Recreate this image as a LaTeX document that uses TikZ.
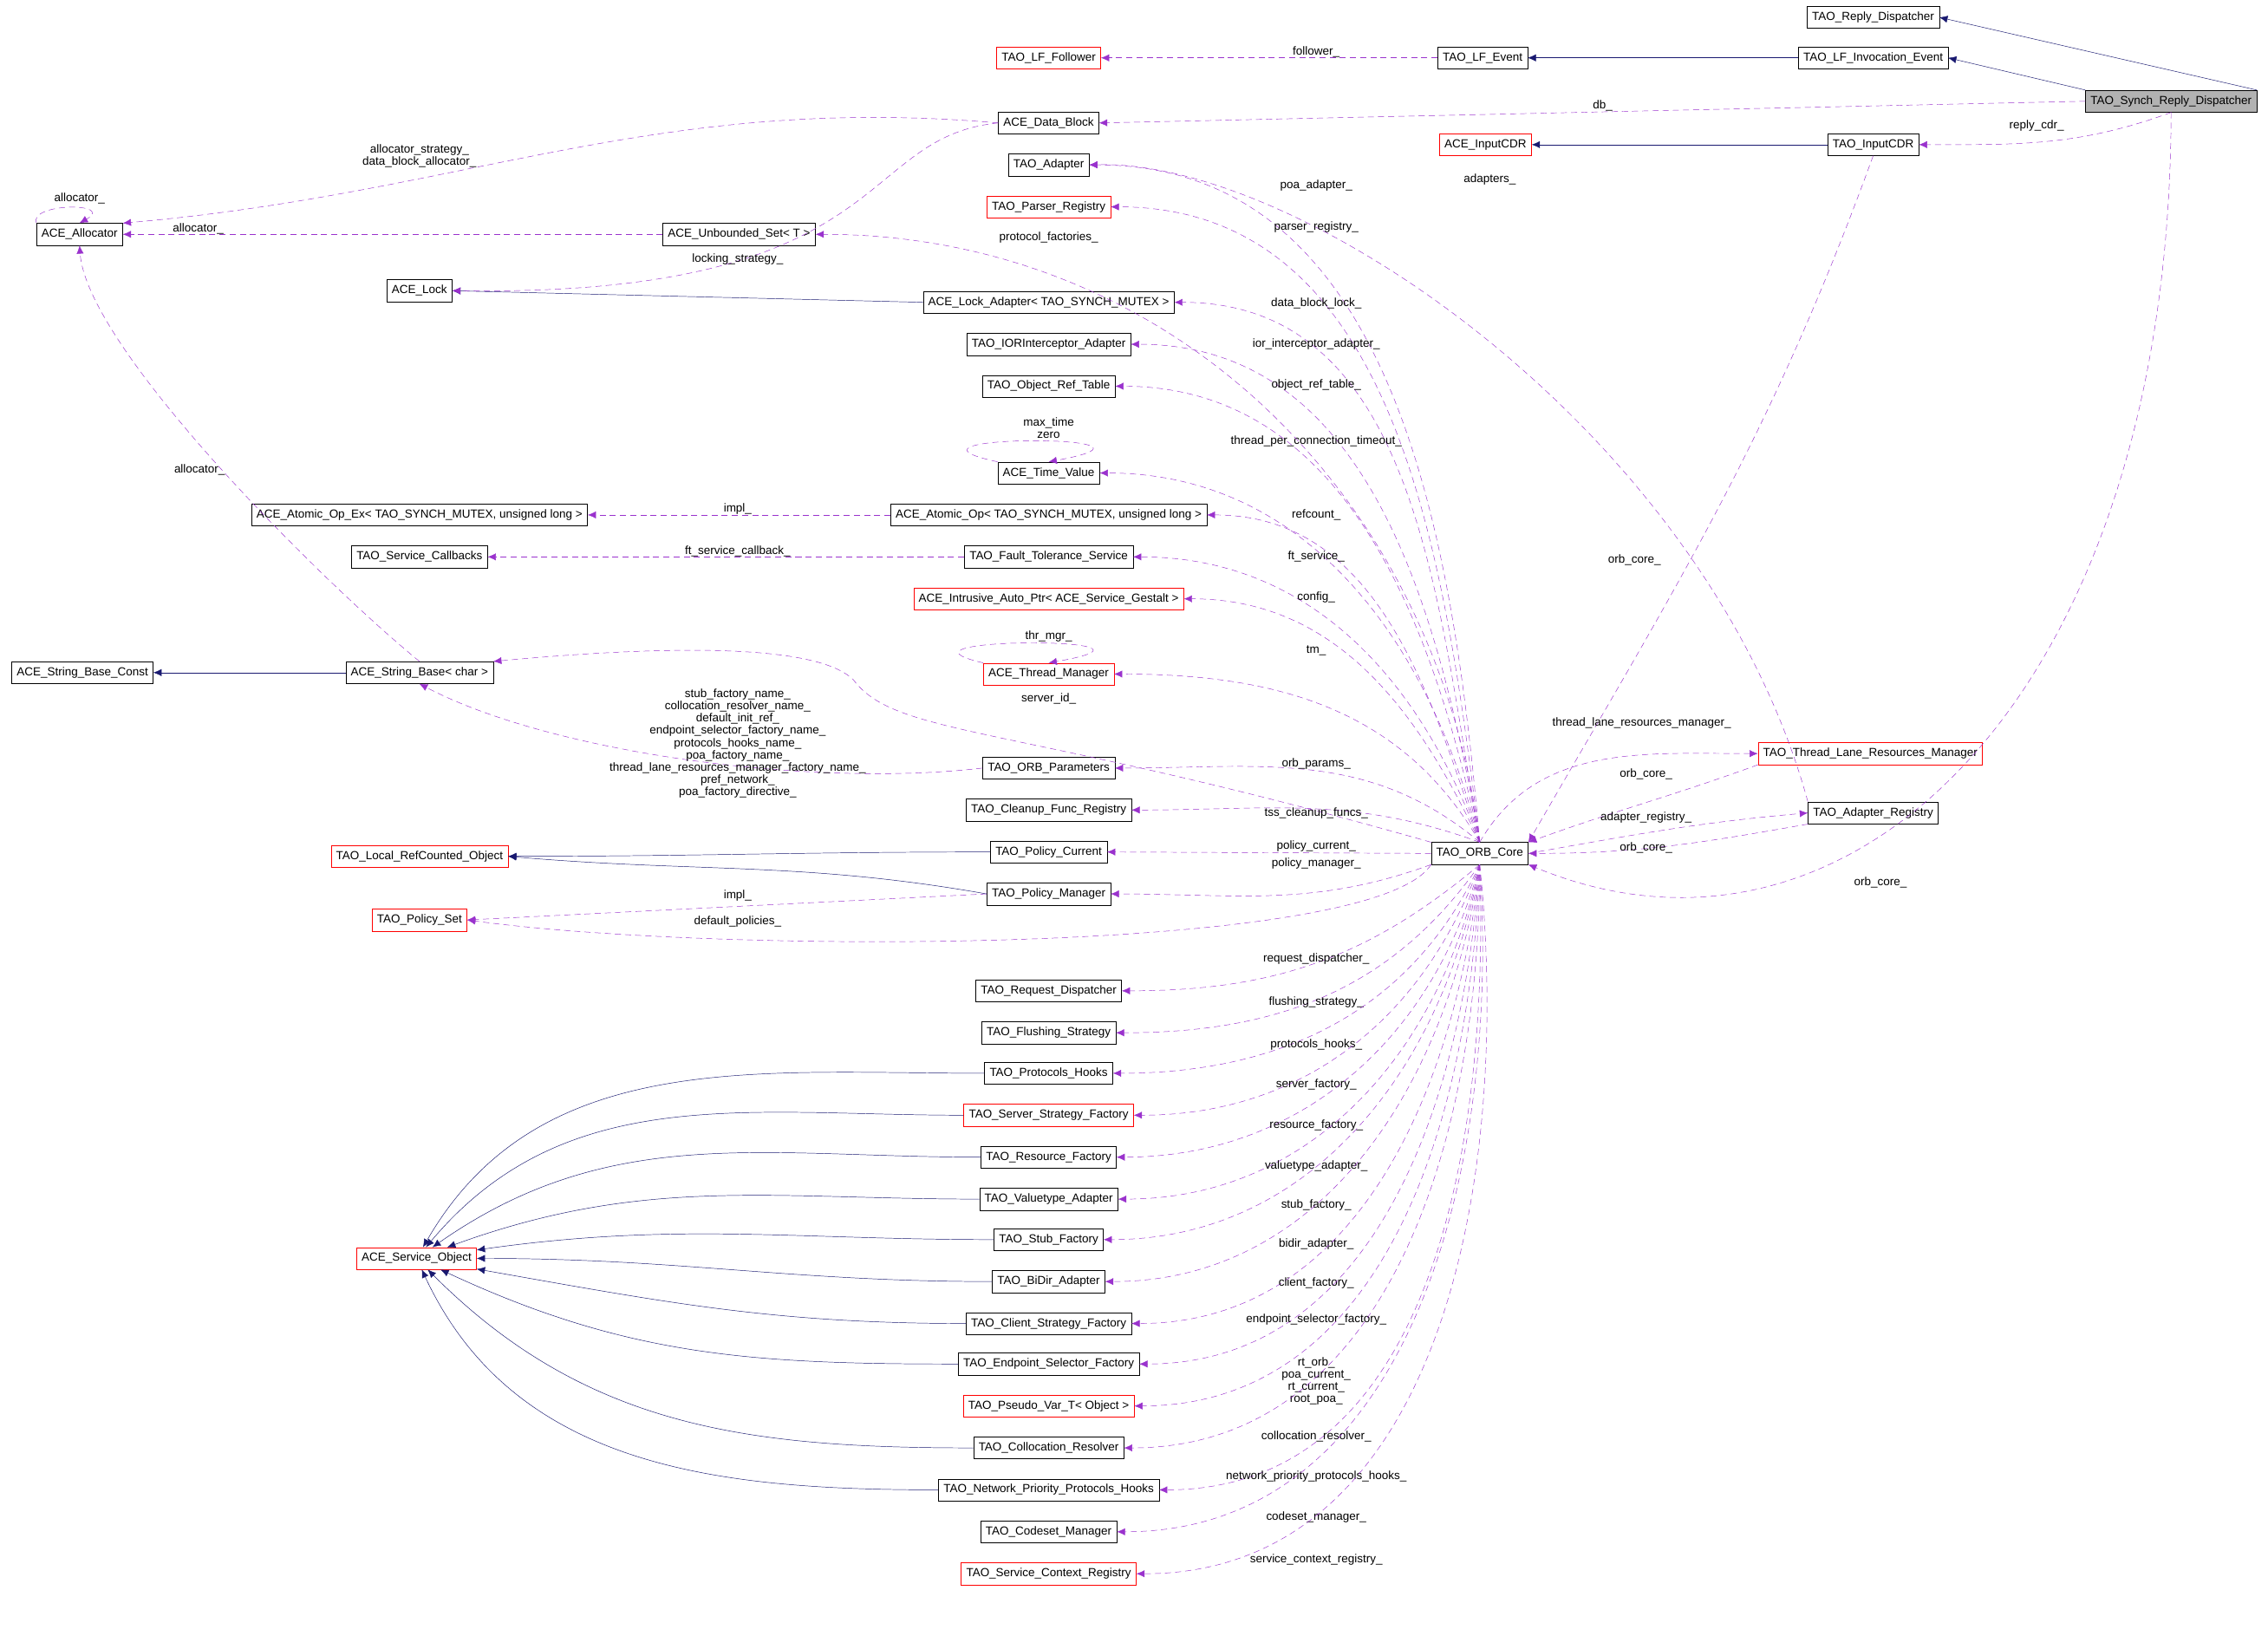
\documentclass[tikz,border=0pt]{standalone}
\usepackage{fontspec}
\setmainfont{Liberation Sans}
\usetikzlibrary{arrows.meta}
\definecolor{usecol}{HTML}{9A32CD}
\definecolor{inhcol}{HTML}{191970}
\tikzset{
  cls/.style={draw=black, fill=white, minimum height=0.76cm, inner xsep=5pt, font=\fontsize{11.5}{12}\selectfont},
  clsred/.style={cls, draw=red},
  inh/.style={draw=inhcol, -{Latex[length=8pt,width=7pt]}},
  usg/.style={draw=usecol, dashed, dash pattern=on 6pt off 4pt, -{Latex[length=8pt,width=7pt]}},
  lbl/.style={font=\fontsize{11.5}{12}\selectfont, align=center, inner sep=1pt}
}
\begin{document}
\begin{tikzpicture}[x=0.05cm, y=-0.05cm]
  \useasboundingbox (0,0) rectangle (1568,1140);
  % top right
  \node (rdisp) [cls] at (1295,12) {TAO\_Reply\_Dispatcher};
  \node (lfinv) [cls] at (1295,40) {TAO\_LF\_Invocation\_Event};
  \node (synch) [cls, fill=black!30] at (1501,70) {TAO\_Synch\_Reply\_Dispatcher};
  \node (lfevent) [cls] at (1025,40) {TAO\_LF\_Event};
  \node (lffollow) [clsred] at (725,40) {TAO\_LF\_Follower};
  \node (datablock) [cls] at (725,85) {ACE\_Data\_Block};
  \node (acecdr) [clsred] at (1027,100) {ACE\_InputCDR};
  \node (taocdr) [cls] at (1295,100) {TAO\_InputCDR};
  \node (adapter) [cls] at (725,114) {TAO\_Adapter};
  \node (parser) [clsred] at (725,143) {TAO\_Parser\_Registry};
  \node (uset) [cls] at (511,162) {ACE\_Unbounded\_Set< T >};
  \node (alloc) [cls] at (55,162) {ACE\_Allocator};
  \node (lock) [cls] at (290,201) {ACE\_Lock};
  \node (lockad) [cls] at (725,209) {ACE\_Lock\_Adapter< TAO\_SYNCH\_MUTEX >};
  \node (ior) [cls] at (725,238) {TAO\_IORInterceptor\_Adapter};
  \node (oref) [cls] at (725,267) {TAO\_Object\_Ref\_Table};
  \node (tval) [cls] at (725,327) {ACE\_Time\_Value};
  \node (atomex) [cls] at (290,356) {ACE\_Atomic\_Op\_Ex< TAO\_SYNCH\_MUTEX, unsigned long >};
  \node (atom) [cls] at (725,356) {ACE\_Atomic\_Op< TAO\_SYNCH\_MUTEX, unsigned long >};
  \node (svccb) [cls] at (290,385) {TAO\_Service\_Callbacks};
  \node (ftsvc) [cls] at (725,385) {TAO\_Fault\_Tolerance\_Service};
  \node (iptr) [clsred] at (725,414) {ACE\_Intrusive\_Auto\_Ptr< ACE\_Service\_Gestalt >};
  \node (thrmgr) [clsred] at (725,466) {ACE\_Thread\_Manager};
  \node (sbconst) [cls] at (57,465) {ACE\_String\_Base\_Const};
  \node (sbase) [cls] at (290,465) {ACE\_String\_Base< char >};
  \node (oparams) [cls] at (725,531) {TAO\_ORB\_Parameters};
  \node (cleanup) [cls] at (725,560) {TAO\_Cleanup\_Func\_Registry};
  \node (lrc) [clsred] at (290,592) {TAO\_Local\_RefCounted\_Object};
  \node (pcur) [cls] at (725,589) {TAO\_Policy\_Current};
  \node (pmgr) [cls] at (725,618) {TAO\_Policy\_Manager};
  \node (pset) [clsred] at (290,636) {TAO\_Policy\_Set};
  \node (orb) [cls] at (1023,590) {TAO\_ORB\_Core};
  \node (tlane) [clsred] at (1293,521) {TAO\_Thread\_Lane\_Resources\_Manager};
  \node (areg) [cls] at (1295,562) {TAO\_Adapter\_Registry};
  % lower column
  \node (reqd) [cls] at (725,685) {TAO\_Request\_Dispatcher};
  \node (flush) [cls] at (725,714) {TAO\_Flushing\_Strategy};
  \node (phooks) [cls] at (725,742) {TAO\_Protocols\_Hooks};
  \node (ssf) [clsred] at (725,771) {TAO\_Server\_Strategy\_Factory};
  \node (resf) [cls] at (725,800) {TAO\_Resource\_Factory};
  \node (vtad) [cls] at (725,829) {TAO\_Valuetype\_Adapter};
  \node (stubf) [cls] at (725,857) {TAO\_Stub\_Factory};
  \node (bidir) [cls] at (725,886) {TAO\_BiDir\_Adapter};
  \node (csf) [cls] at (725,915) {TAO\_Client\_Strategy\_Factory};
  \node (esf) [cls] at (725,943) {TAO\_Endpoint\_Selector\_Factory};
  \node (pvar) [clsred] at (725,972) {TAO\_Pseudo\_Var\_T< Object >};
  \node (coll) [cls] at (725,1001) {TAO\_Collocation\_Resolver};
  \node (nph) [cls] at (725,1030) {TAO\_Network\_Priority\_Protocols\_Hooks};
  \node (csm) [cls] at (725,1059) {TAO\_Codeset\_Manager};
  \node (scr) [clsred] at (725,1088) {TAO\_Service\_Context\_Registry};
  \node (svcobj) [clsred] at (288,870) {ACE\_Service\_Object};

  % inheritance
  \draw [inh] (synch.north east) -- (rdisp.east);
  \draw [inh] (synch.north west) -- (lfinv.east);
  \draw [inh] (lfinv) -- (lfevent);
  \draw [inh] (taocdr) -- (acecdr);
  \draw [inh] (lockad.west) -- (lock.east);
  \draw [inh] (sbase) -- (sbconst);
  \draw [inh] (pcur.west) to[out=180,in=0] (lrc.east);
  \draw [inh] (pmgr.west) to[out=170,in=-5] (lrc.east);
  \foreach \c/\a in {phooks/60, ssf/50, resf/35, vtad/20, stubf/8, bidir/0, csf/-10, esf/-25, coll/-45, nph/-65}
    \draw [inh] (\c.west) to[out=180,in=\a] (svcobj);

  % usage
  \draw [usg] (lfevent) -- (lffollow) node[lbl, at={(910,36)}] {follower\_};
  \draw [usg] (synch.west) -- (datablock.east) node[lbl, at={(1108,73)}] {db\_};
  \draw [usg] (synch.south) to[out=200,in=0] (taocdr.east) node[lbl, at={(1408,87)}] {reply\_cdr\_};
  \draw [usg] (synch.south) .. controls (1500,480) and (1280,690) .. (orb.south east) node[lbl, at={(1300,610)}] {orb\_core\_};
  \draw [usg] (taocdr.south) to[out=250,in=60] (orb.north east) node[lbl, at={(1130,387)}] {orb\_core\_};
  \draw [usg] (datablock.west) to[out=175,in=5] (alloc.north east) node[lbl, at={(290,108)}] {allocator\_strategy\_\\data\_block\_allocator\_};
  \draw [usg] (datablock.west) .. controls (590,95) and (620,205) .. (lock.east) node[lbl, at={(510,179)}] {locking\_strategy\_};
  \draw [usg] (alloc.north west) .. controls (20,140) and (80,140) .. (alloc.north) node[lbl, at={(55,137)}] {allocator\_};
  \draw [usg] (uset) -- (alloc) node[lbl, at={(137,158)}] {allocator\_};
  \draw [usg] (sbase.north) .. controls (220,400) and (60,240) .. (alloc.south) node[lbl, at={(138,325)}] {allocator\_};
  \draw [usg] (tval.north west) .. controls (600,300) and (830,300) .. (tval.north) node[lbl, at={(725,296)}] {max\_time\\zero};
  \draw [usg] (thrmgr.north west) .. controls (600,440) and (830,440) .. (thrmgr.north) node[lbl, at={(725,440)}] {thr\_mgr\_};
  \draw [usg] (atom) -- (atomex) node[lbl, at={(510,352)}] {impl\_};
  \draw [usg] (ftsvc) -- (svccb) node[lbl, at={(510,381)}] {ft\_service\_callback\_};
  \draw [usg] (oparams.west) .. controls (560,545) and (380,520) .. (sbase.south) node[lbl, at={(510,514)}] {stub\_factory\_name\_\\collocation\_resolver\_name\_\\default\_init\_ref\_\\endpoint\_selector\_factory\_name\_\\protocols\_hooks\_name\_\\poa\_factory\_name\_\\thread\_lane\_resources\_manager\_factory\_name\_\\pref\_network\_\\poa\_factory\_directive\_};
  \draw [usg] (orb.north west) .. controls (700,500) and (620,510) .. (590,470) .. controls (560,440) and (420,450) .. (sbase.north east) node[lbl, at={(725,483)}] {server\_id\_};
  \draw [usg] (pmgr.west) -- (pset.east) node[lbl, at={(510,619)}] {impl\_};
  \draw [usg] (orb.south west) .. controls (950,660) and (500,660) .. (pset.east) node[lbl, at={(510,637)}] {default\_policies\_};
  \draw [usg] (orb.north) to[out=60,in=180] (tlane.west) node[lbl, at={(1135,500)}] {thread\_lane\_resources\_manager\_};
  \draw [usg] (tlane.south west) to[out=200,in=20] (orb.north east) node[lbl, at={(1138,535)}] {orb\_core\_};
  \draw [usg] (orb.east) to[out=10,in=185] (areg.west) node[lbl, at={(1138,565)}] {adapter\_registry\_};
  \draw [usg] (areg.south west) to[out=190,in=0] (orb.east) node[lbl, at={(1138,586)}] {orb\_core\_};
  \draw [usg] (areg.north west) .. controls (1180,300) and (900,110) .. (adapter.east) node[lbl, at={(1030,124)}] {adapters\_};
  % fan from the ORB core
  \foreach \t/\y/\l/\o in {adapter/128/poa\_adapter\_/95, parser/157/parser\_registry\_/97,
      lockad/210/data\_block\_lock\_/100, ior/238/ior\_interceptor\_adapter\_/100, oref/266/object\_ref\_table\_/102,
      tval/305/thread\_per\_connection\_timeout\_/104, atom/356/refcount\_/108, ftsvc/385/ft\_service\_/110,
      iptr/413/config\_/115, thrmgr/450/tm\_/120, oparams/528/orb\_params\_/140, cleanup/562/tss\_cleanup\_funcs\_/160}
    \draw [usg] (orb.north) to[out=\o,in=0] (\t.east) node[lbl, at={(910,\y)}] {\l};
  \draw [usg] (orb.north) to[out=97,in=0] (uset.east) node[lbl, at={(725,164)}] {protocol\_factories\_};
  \draw [usg] (orb.west) -- (pcur.east) node[lbl, at={(910,585)}] {policy\_current\_};
  \draw [usg] (orb.south west) to[out=200,in=0] (pmgr.east) node[lbl, at={(910,597)}] {policy\_manager\_};
  \foreach \t/\y/\l/\o in {reqd/663/request\_dispatcher\_/220, flush/693/flushing\_strategy\_/235, phooks/722/protocols\_hooks\_/245,
      ssf/750/server\_factory\_/250, resf/778/resource\_factory\_/255, vtad/806/valuetype\_adapter\_/258,
      stubf/833/stub\_factory\_/260, bidir/860/bidir\_adapter\_/262, csf/887/client\_factory\_/264,
      esf/912/endpoint\_selector\_factory\_/266, pvar/955/rt\_orb\_\\poa\_current\_\\rt\_current\_\\root\_poa\_/268,
      coll/993/collocation\_resolver\_/270, nph/1021/network\_priority\_protocols\_hooks\_/272,
      csm/1049/codeset\_manager\_/274, scr/1078/service\_context\_registry\_/276}
    \draw [usg] (orb.south) to[out=\o,in=0] (\t.east) node[lbl, at={(910,\y)}] {\l};
\end{tikzpicture}
\end{document}
